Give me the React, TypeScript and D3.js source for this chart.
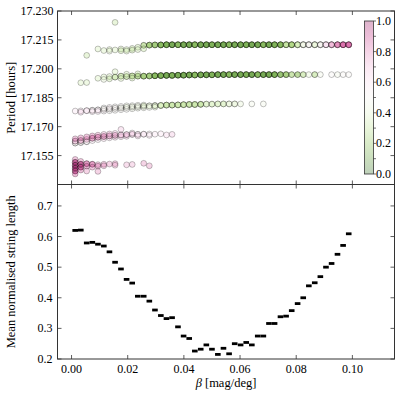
import React from "react";
import * as d3 from "d3";

// beta values (mag/deg) shared by both panels
const betaGrid = [
  0.0013, 0.0033, 0.0054, 0.0074, 0.0094, 0.0115, 0.0135, 0.0155, 0.0176, 0.0196,
  0.0216, 0.0236, 0.0257, 0.0277, 0.0297, 0.0318, 0.0338, 0.0358, 0.0379, 0.0399,
  0.0419, 0.0439, 0.046, 0.048, 0.05, 0.0521, 0.0541, 0.0561, 0.0581, 0.0602,
  0.0622, 0.0642, 0.0663, 0.0683, 0.0703, 0.0723, 0.0744, 0.0764, 0.0784, 0.0805,
  0.0825, 0.0845, 0.0866, 0.0886, 0.0906, 0.0926, 0.0947, 0.0967, 0.0987,
];

const meanStringLength = [
  0.62, 0.621, 0.579, 0.581, 0.575, 0.569, 0.55, 0.516, 0.494, 0.46,
  0.448, 0.405, 0.405, 0.389, 0.36, 0.342, 0.332, 0.335, 0.305, 0.275,
  0.267, 0.226, 0.232, 0.246, 0.232, 0.215, 0.235, 0.217, 0.25, 0.246,
  0.254, 0.246, 0.275, 0.275, 0.316, 0.316, 0.338, 0.34, 0.358, 0.381,
  0.4, 0.439, 0.449, 0.469, 0.5, 0.512, 0.542, 0.571, 0.609,
];

const periodTicks = [17.155, 17.17, 17.185, 17.2, 17.215, 17.23];
const lengthTicks = [0.2, 0.3, 0.4, 0.5, 0.6, 0.7];
const betaTicks = [0, 0.02, 0.04, 0.06, 0.08, 0.1];
const colourTicks = [0, 0.2, 0.4, 0.6, 0.8, 1];

// [beta index, period (hours), colour value, overlapping runs]
const bandA = [
  [2, 17.207, 0.3, 1], [7, 17.2241, 0.3, 1],
  [4, 17.2103, 0.35, 1], [5, 17.2095, 0.35, 1],
  [6, 17.21, 0.35, 1], [6, 17.2092, 0.4, 1],
  [7, 17.2098, 0.35, 1], [8, 17.2103, 0.35, 1], [8, 17.2094, 0.3, 1],
  [9, 17.21, 0.3, 1], [9, 17.2092, 0.35, 1],
  [10, 17.2106, 0.3, 1], [10, 17.2097, 0.3, 1],
  [11, 17.2112, 0.3, 1], [11, 17.21, 0.35, 1],
  [12, 17.2122, 0.25, 2], [12, 17.2104, 0.3, 1],
  [13, 17.2123, 0.2, 3], [14, 17.2124, 0.18, 3], [15, 17.2124, 0.15, 4],
  [16, 17.2125, 0.12, 4], [17, 17.2125, 0.1, 4], [18, 17.2125, 0.15, 4],
  [19, 17.2125, 0.1, 4], [20, 17.2125, 0.1, 4], [21, 17.2125, 0.15, 4],
  [22, 17.2125, 0.1, 4], [23, 17.2125, 0.1, 4], [24, 17.2125, 0.12, 4],
  [25, 17.2125, 0.1, 4], [26, 17.2125, 0.1, 4], [27, 17.2125, 0.15, 4],
  [28, 17.2125, 0.1, 4], [29, 17.2125, 0.1, 4], [30, 17.2125, 0.12, 4],
  [31, 17.2125, 0.1, 4], [32, 17.2125, 0.1, 4], [33, 17.2125, 0.15, 4],
  [34, 17.2125, 0.1, 4], [35, 17.2125, 0.12, 4], [36, 17.2125, 0.15, 4],
  [37, 17.2125, 0.3, 4], [38, 17.2125, 0.25, 4], [39, 17.2125, 0.35, 4],
  [40, 17.2125, 0.45, 4], [41, 17.2125, 0.5, 4], [42, 17.2125, 0.42, 4],
  [43, 17.2125, 0.5, 4], [44, 17.2125, 0.6, 4], [45, 17.2125, 0.72, 4],
  [46, 17.2125, 0.8, 4], [47, 17.2125, 0.85, 4], [48, 17.2125, 0.85, 4],
];

const bandB = [
  [1, 17.1928, 0.35, 1], [2, 17.1929, 0.35, 1],
  [4, 17.1951, 0.35, 1], [5, 17.1958, 0.35, 1], [5, 17.1945, 0.4, 1],
  [6, 17.196, 0.35, 1], [6, 17.1948, 0.3, 1],
  [7, 17.1985, 0.35, 1], [7, 17.1957, 0.3, 2],
  [8, 17.1962, 0.3, 2], [8, 17.195, 0.35, 1],
  [9, 17.196, 0.3, 2], [9, 17.1972, 0.35, 1],
  [10, 17.1963, 0.25, 2], [10, 17.1952, 0.3, 1],
  [11, 17.1962, 0.2, 2], [11, 17.1974, 0.3, 1],
  [12, 17.1962, 0.2, 3], [13, 17.1963, 0.18, 3], [14, 17.1964, 0.15, 4],
  [15, 17.1965, 0.12, 4], [16, 17.1966, 0.1, 4], [17, 17.1966, 0.12, 4],
  [18, 17.1967, 0.1, 4], [19, 17.1967, 0.1, 4], [20, 17.1968, 0.1, 4],
  [21, 17.1968, 0.15, 4], [22, 17.1969, 0.1, 4], [23, 17.1969, 0.1, 4],
  [24, 17.1969, 0.12, 4], [25, 17.197, 0.1, 4], [26, 17.197, 0.1, 4],
  [27, 17.197, 0.15, 4], [28, 17.197, 0.1, 4], [29, 17.197, 0.1, 4],
  [30, 17.197, 0.12, 4], [31, 17.197, 0.1, 4], [32, 17.197, 0.15, 4],
  [33, 17.197, 0.1, 4], [34, 17.197, 0.1, 4], [35, 17.197, 0.12, 4],
  [36, 17.197, 0.15, 3], [37, 17.197, 0.2, 3], [38, 17.197, 0.25, 2],
  [39, 17.197, 0.2, 2], [40, 17.197, 0.3, 2], [41, 17.197, 0.4, 1],
  [42, 17.197, 0.3, 2], [43, 17.197, 0.45, 1], [45, 17.197, 0.5, 1],
  [46, 17.197, 0.45, 1], [47, 17.197, 0.5, 1], [48, 17.197, 0.5, 1],
];

const bandC = [
  [0, 17.1781, 0.6, 1], [1, 17.1782, 0.6, 1], [1, 17.1775, 0.65, 1],
  [2, 17.1783, 0.6, 2], [3, 17.1785, 0.55, 2], [3, 17.1778, 0.6, 1],
  [4, 17.1787, 0.55, 2], [4, 17.1779, 0.6, 1],
  [5, 17.179, 0.5, 2], [5, 17.1781, 0.55, 1], [5, 17.1797, 0.5, 1],
  [6, 17.1792, 0.5, 2], [6, 17.1783, 0.5, 1], [6, 17.18, 0.55, 1],
  [7, 17.1795, 0.5, 2], [7, 17.1785, 0.5, 1], [7, 17.1803, 0.5, 1],
  [8, 17.1797, 0.45, 2], [8, 17.1788, 0.5, 1], [8, 17.1805, 0.5, 1],
  [9, 17.18, 0.45, 2], [9, 17.179, 0.5, 1], [9, 17.1808, 0.45, 1],
  [10, 17.1802, 0.45, 2], [10, 17.1793, 0.45, 1], [10, 17.1809, 0.45, 1],
  [11, 17.1804, 0.45, 2], [11, 17.1796, 0.45, 1], [11, 17.1811, 0.45, 1],
  [12, 17.1806, 0.4, 2], [12, 17.1798, 0.45, 1], [12, 17.1812, 0.4, 1],
  [13, 17.1808, 0.4, 2], [13, 17.18, 0.45, 1],
  [14, 17.1809, 0.4, 3], [14, 17.1801, 0.4, 1],
  [15, 17.181, 0.35, 3], [16, 17.1812, 0.3, 3], [17, 17.1812, 0.3, 3],
  [18, 17.1813, 0.3, 3], [19, 17.1814, 0.3, 3], [20, 17.1815, 0.3, 3],
  [21, 17.1815, 0.3, 3], [22, 17.1816, 0.3, 3], [23, 17.1817, 0.35, 2],
  [24, 17.1817, 0.35, 2], [25, 17.1818, 0.35, 2], [26, 17.1818, 0.35, 2],
  [27, 17.1818, 0.4, 2], [28, 17.1818, 0.4, 2],
  [29, 17.1818, 0.4, 1], [31, 17.1818, 0.45, 1], [33, 17.1818, 0.45, 1],
];

const bandD = [
  [0, 17.1615, 0.5, 2], [0, 17.1625, 0.7, 2], [0, 17.1637, 0.85, 1],
  [1, 17.1618, 0.5, 2], [1, 17.1628, 0.75, 2], [1, 17.1642, 0.85, 1],
  [2, 17.1622, 0.55, 2], [2, 17.1634, 0.8, 1], [2, 17.1647, 0.85, 1],
  [3, 17.1628, 0.6, 1], [3, 17.164, 0.8, 2], [3, 17.1652, 0.85, 1],
  [4, 17.1633, 0.6, 1], [4, 17.1645, 0.8, 2], [4, 17.1656, 0.8, 1],
  [5, 17.1638, 0.65, 1], [5, 17.1649, 0.8, 2], [5, 17.166, 0.75, 1],
  [6, 17.1642, 0.65, 1], [6, 17.1652, 0.75, 2], [6, 17.1662, 0.75, 1],
  [7, 17.1645, 0.7, 1], [7, 17.1655, 0.75, 2], [7, 17.1665, 0.7, 1],
  [8, 17.1648, 0.7, 1], [8, 17.1657, 0.7, 2], [8, 17.1686, 0.7, 1],
  [9, 17.165, 0.7, 1], [9, 17.1659, 0.7, 2],
  [10, 17.166, 0.65, 2], [10, 17.1667, 0.65, 1],
  [11, 17.166, 0.6, 2], [11, 17.1652, 0.65, 1],
  [12, 17.1661, 0.6, 2], [13, 17.1662, 0.55, 1], [13, 17.1655, 0.6, 1],
  [14, 17.1661, 0.6, 1], [15, 17.1663, 0.6, 1], [16, 17.1657, 0.65, 1],
  [17, 17.166, 0.7, 1],
];

const bandE = [
  [0, 17.153, 0.85, 1], [0, 17.1515, 0.95, 2], [0, 17.15, 1, 2],
  [0, 17.1485, 1, 2], [0, 17.147, 0.95, 2], [0, 17.1455, 0.9, 1],
  [1, 17.152, 0.85, 1], [1, 17.1505, 0.95, 2], [1, 17.149, 0.95, 2],
  [1, 17.1475, 0.9, 1],
  [2, 17.1508, 0.85, 2], [2, 17.1495, 0.9, 1], [2, 17.147, 0.8, 1],
  [3, 17.1505, 0.85, 2], [3, 17.149, 0.85, 1],
  [4, 17.1503, 0.8, 1], [4, 17.1495, 0.85, 1], [4, 17.1468, 0.8, 1],
  [5, 17.1505, 0.8, 1], [5, 17.1497, 0.8, 1],
  [6, 17.1506, 0.8, 1], [7, 17.1508, 0.8, 1], [7, 17.15, 0.75, 1],
  [9, 17.1502, 0.75, 1], [10, 17.1504, 0.75, 1],
  [12, 17.151, 0.8, 1], [13, 17.1497, 0.8, 1],
];

const bands = [bandE, bandD, bandC, bandB, bandA];

const FONT = "'Liberation Serif', 'Times New Roman', serif";

export default function App() {
  const width = 399;
  const height = 394;
  const left = 57.5;
  const right = 394.5;
  const top = 11;
  const mid = 184.5;
  const bottom = 359;
  const tick = 4;

  const x = d3.scaleLinear().domain([-0.005, 0.115]).range([left, right]);
  const yPeriod = d3.scaleLinear().domain([17.14, 17.23]).range([mid, top]);
  const yLength = d3.scaleLinear().domain([0.2, 0.77]).range([bottom, mid]);
  const cbY = d3.scaleLinear().domain([0, 1]).range([174, 21]);
  const colour = (v) => d3.interpolatePiYG(1 - v);

  const cbLeft = 364.5;
  const cbRight = 373.5;

  const points = [];
  bands.forEach((band, b) =>
    band.forEach(([i, p, c, runs], k) => {
      for (let r = 0; r < runs; r++) {
        points.push(
          <circle
            key={`${b}-${k}-${r}`}
            cx={x(betaGrid[i])}
            cy={yPeriod(p)}
            r={2.9}
            fill={colour(c)}
            fillOpacity={0.3}
            stroke="#000"
            strokeOpacity={0.3}
            strokeWidth={0.8}
          />
        );
      }
    })
  );

  const dashes = meanStringLength.map((v, i) => (
    <rect
      key={i}
      x={x(betaGrid[i]) - 2.8}
      y={yLength(v) - 1.4}
      width={5.6}
      height={2.8}
      fill="#000"
    />
  ));

  const stops = d3.range(0, 1.0001, 0.1).map((t) => (
    <stop key={t} offset={`${t * 100}%`} stopColor={colour(1 - t)} stopOpacity={0.3} />
  ));

  return (
    <svg
      width={width}
      height={height}
      style={{ position: "absolute", left: 0, top: 0, background: "#fff" }}
      fontFamily={FONT}
    >
      <defs>
        <clipPath id="topClip">
          <rect x={left} y={top} width={right - left} height={mid - top} />
        </clipPath>
        <linearGradient id="cbGrad" x1="0" y1="0" x2="0" y2="1">
          {stops}
        </linearGradient>
      </defs>

      <g clipPath="url(#topClip)">{points}</g>
      {dashes}

      {/* x ticks on both panels */}
      {betaTicks.map((t) => (
        <g key={t} stroke="#333" strokeWidth={0.8}>
          <line x1={x(t)} x2={x(t)} y1={top} y2={top + tick} />
          <line x1={x(t)} x2={x(t)} y1={mid} y2={mid - tick} />
          <line x1={x(t)} x2={x(t)} y1={mid} y2={mid + tick} />
          <line x1={x(t)} x2={x(t)} y1={bottom} y2={bottom - tick} />
        </g>
      ))}
      {betaTicks.map((t) => (
        <text key={t} x={x(t)} y={bottom + 13.5} textAnchor="middle" fontSize={12}>
          {d3.format(".2f")(t)}
        </text>
      ))}

      {periodTicks.map((t) => (
        <g key={t}>
          <line x1={left} x2={left + tick} y1={yPeriod(t)} y2={yPeriod(t)} stroke="#333" strokeWidth={0.8} />
          <line x1={right} x2={right - tick} y1={yPeriod(t)} y2={yPeriod(t)} stroke="#333" strokeWidth={0.8} />
          <text x={left - 4} y={yPeriod(t) + 4} textAnchor="end" fontSize={12}>
            {d3.format(".3f")(t)}
          </text>
        </g>
      ))}

      {lengthTicks.map((t) => (
        <g key={t}>
          <line x1={left} x2={left + tick} y1={yLength(t)} y2={yLength(t)} stroke="#333" strokeWidth={0.8} />
          <line x1={right} x2={right - tick} y1={yLength(t)} y2={yLength(t)} stroke="#333" strokeWidth={0.8} />
          <text x={left - 5} y={yLength(t) + 4} textAnchor="end" fontSize={12}>
            {d3.format(".1f")(t)}
          </text>
        </g>
      ))}

      {/* frames */}
      <rect x={left} y={top} width={right - left} height={mid - top} fill="none" stroke="#333" strokeWidth={1} />
      <rect x={left} y={mid} width={right - left} height={bottom - mid} fill="none" stroke="#333" strokeWidth={1} />

      {/* colour bar */}
      <rect x={cbLeft} y={cbY(1)} width={cbRight - cbLeft} height={cbY(0) - cbY(1)} fill="#fff" />
      <rect
        x={cbLeft}
        y={cbY(1)}
        width={cbRight - cbLeft}
        height={cbY(0) - cbY(1)}
        fill="url(#cbGrad)"
        stroke="#333"
        strokeWidth={0.8}
      />
      {d3.range(0, 1.0001, 0.1).map((t) => (
        <line key={t} x1={cbRight} x2={cbRight + 2.5} y1={cbY(t)} y2={cbY(t)} stroke="#333" strokeWidth={0.7} />
      ))}
      {colourTicks.map((t) => (
        <text key={t} x={cbRight + 2.5} y={cbY(t) + 4} fontSize={12}>
          {d3.format(".1f")(t)}
        </text>
      ))}

      {/* axis labels */}
      <text transform={`translate(15,${(top + mid) / 2}) rotate(-90)`} textAnchor="middle" fontSize={12.5}>
        Period [hours]
      </text>
      <text transform={`translate(15,${(mid + bottom) / 2}) rotate(-90)`} textAnchor="middle" fontSize={12.5}>
        Mean normalised string length
      </text>
      <text x={(left + right) / 2} y={bottom + 28} textAnchor="middle" fontSize={12.5}>
        <tspan fontStyle="italic">β</tspan> [mag/deg]
      </text>
    </svg>
  );
}
